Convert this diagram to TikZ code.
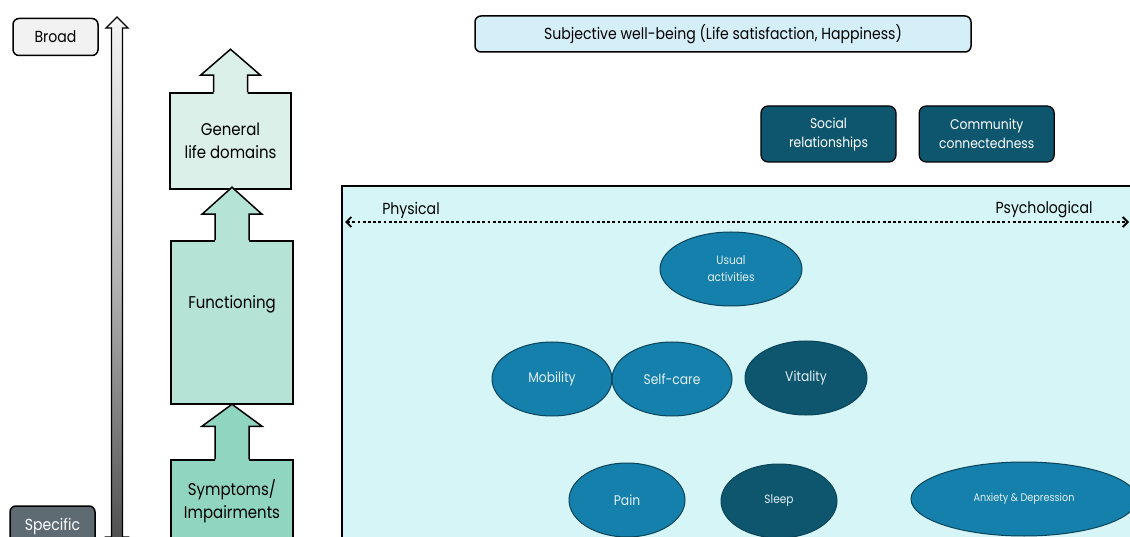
\documentclass[tikz,border=0pt]{standalone}
\usepackage{fontspec}
\setmainfont{Poppins}[FakeStretch=0.88]
\usetikzlibrary{shapes.geometric,arrows.meta,calc,positioning}
\definecolor{mintA}{HTML}{DCF0EA}
\definecolor{mintB}{HTML}{B5E3D5}
\definecolor{mintC}{HTML}{8FD5C0}
\definecolor{frameCyan}{HTML}{D5F5F7}
\definecolor{skyBox}{HTML}{D5EFF9}
\definecolor{tealDark}{HTML}{0E566E}
\definecolor{tealMid}{HTML}{1580AB}
\definecolor{tealLine}{HTML}{0B4458}
\definecolor{slate}{HTML}{5F6B73}
\tikzset{
  basic/.style  = {draw, line width=1.5pt, rectangle, align=center, inner sep=2pt},
  tagbox/.style = {basic, rounded corners=6pt, minimum width=85pt, minimum height=37pt,
                   font=\fontsize{16}{19}\selectfont},
  levelbox/.style = {basic, minimum width=122pt, font=\fontsize{17}{23}\selectfont},
  domainbox/.style = {basic, line width=1.2pt, rounded corners=7pt, fill=tealDark, text=white,
                   minimum width=135pt, minimum height=56pt, font=\fontsize{14}{19}\selectfont},
  facet/.style  = {ellipse, draw=tealLine, line width=1pt, fill=tealMid, text=white!88!tealMid,
                   inner sep=0pt, minimum height=74pt, font=\fontsize{14}{17}\selectfont},
  smalltext/.style = {font=\fontsize{12}{17}\selectfont}
}
% block arrow on top of a level box: #1 box, #2 colour, #3 shaft, #4 head
\newcommand{\levelarrow}[4]{%
  \fill[#2] ($(#1.north)+(-17,2)$) -- ++(0,-#3-2) -- ++(-13,0) -- ++(30,-#4)
    -- ++(30,#4) -- ++(-13,0) -- ++(0,#3+2) -- cycle;
  \draw[line width=1.5pt, line join=miter] ($(#1.north)+(-17,0)$) -- ++(0,-#3) -- ++(-13,0)
    -- ++(30,-#4) -- ++(30,#4) -- ++(-13,0) -- ++(0,#3);
}

\begin{document}
\begin{tikzpicture}[x=1pt,y=-1pt]
\useasboundingbox (0,0) rectangle (1130,537);

% left scale
\node[tagbox, fill=black!5] (broad) at (55.5,37) {Broad};
\node[tagbox, fill=slate, text=white, minimum height=40pt] (specific) at (52.5,526) {Specific};
\coordinate (scaletop) at (117,17);
\coordinate (scalebot) at (117,548);
\draw[line width=1.3pt, top color=black!4, bottom color=black!70, middle color=black!30]
  (scaletop) -- ++(11,11) -- ++(-5.5,0) |- ($(scalebot)+(5.5,-11)$) -- ++(5.5,0)
  -- (scalebot) -- ++(-11,-11) -- ++(5.5,0) |- ($(scaletop)+(-5.5,11)$) -- ++(-5.5,0) -- cycle;

% levels
\node[levelbox, fill=mintA, minimum width=121pt, minimum height=96pt] (general) at (230.5,141)
  {General\\life domains};
\node[levelbox, fill=mintB, minimum height=163pt,
  label={[font=\fontsize{17}{23}\selectfont, yshift=18pt]center:Functioning}] (functioning) at (232,322.5) {};
\node[levelbox, fill=mintC, minimum height=82pt] (symptoms) at (232,501)
  {Symptoms/\\Impairments};
\levelarrow{general}{mintA}{17}{26}
\levelarrow{functioning}{mintB}{26}{27}
\levelarrow{symptoms}{mintC}{33}{22}

% top
\node[basic, rounded corners=6pt, fill=skyBox, minimum width=496pt, minimum height=36pt,
  font=\fontsize{16}{19}\selectfont] (swb) at (723,34)
  {Subjective well-being (Life satisfaction, Happiness)};
\node[domainbox] (social) at (828.5,134) {Social\\relationships};
\node[domainbox, right=22pt of social] (community) {Community\\connectedness};

% health frame
\draw[line width=1.5pt, fill=frameCyan] (342,186) rectangle (1140,560);
\coordinate (physend) at (345,222);
\coordinate (psyend) at (1129,222);
\draw[line width=2.8pt, dash pattern=on 2.8pt off 2.4pt,
  {Straight Barb[length=5pt,width=10pt,line width=1.8pt]}-{Straight Barb[length=5pt,width=10pt,line width=1.8pt]}]
  (physend) -- (psyend);
\node[font=\fontsize{16}{19}\selectfont] (physical) at (411,210) {Physical};
\node[font=\fontsize{16}{19}\selectfont] (psychological) at (1044,210) {Psychological};

% facets
\node[facet, smalltext, minimum width=142pt, align=center] (usual) at (731,269) {Usual\\activities};
\node[facet, minimum width=120pt] (mobility) at (552,379) {Mobility};
\node[facet, minimum width=120pt] (selfcare) at (672,379) {Self-care};
\node[facet, fill=tealDark, minimum width=122pt] (vitality) at (806,378) {Vitality};
\node[facet, minimum width=116pt] (pain) at (627,500) {Pain};
\node[facet, smalltext, fill=tealDark, minimum width=116pt] (sleep) at (779,501) {Sleep};
\node[facet, font=\fontsize{11}{14}\selectfont, minimum width=226pt] (anxiety) at (1024,499)
  {Anxiety \& Depression};
\end{tikzpicture}
\end{document}
